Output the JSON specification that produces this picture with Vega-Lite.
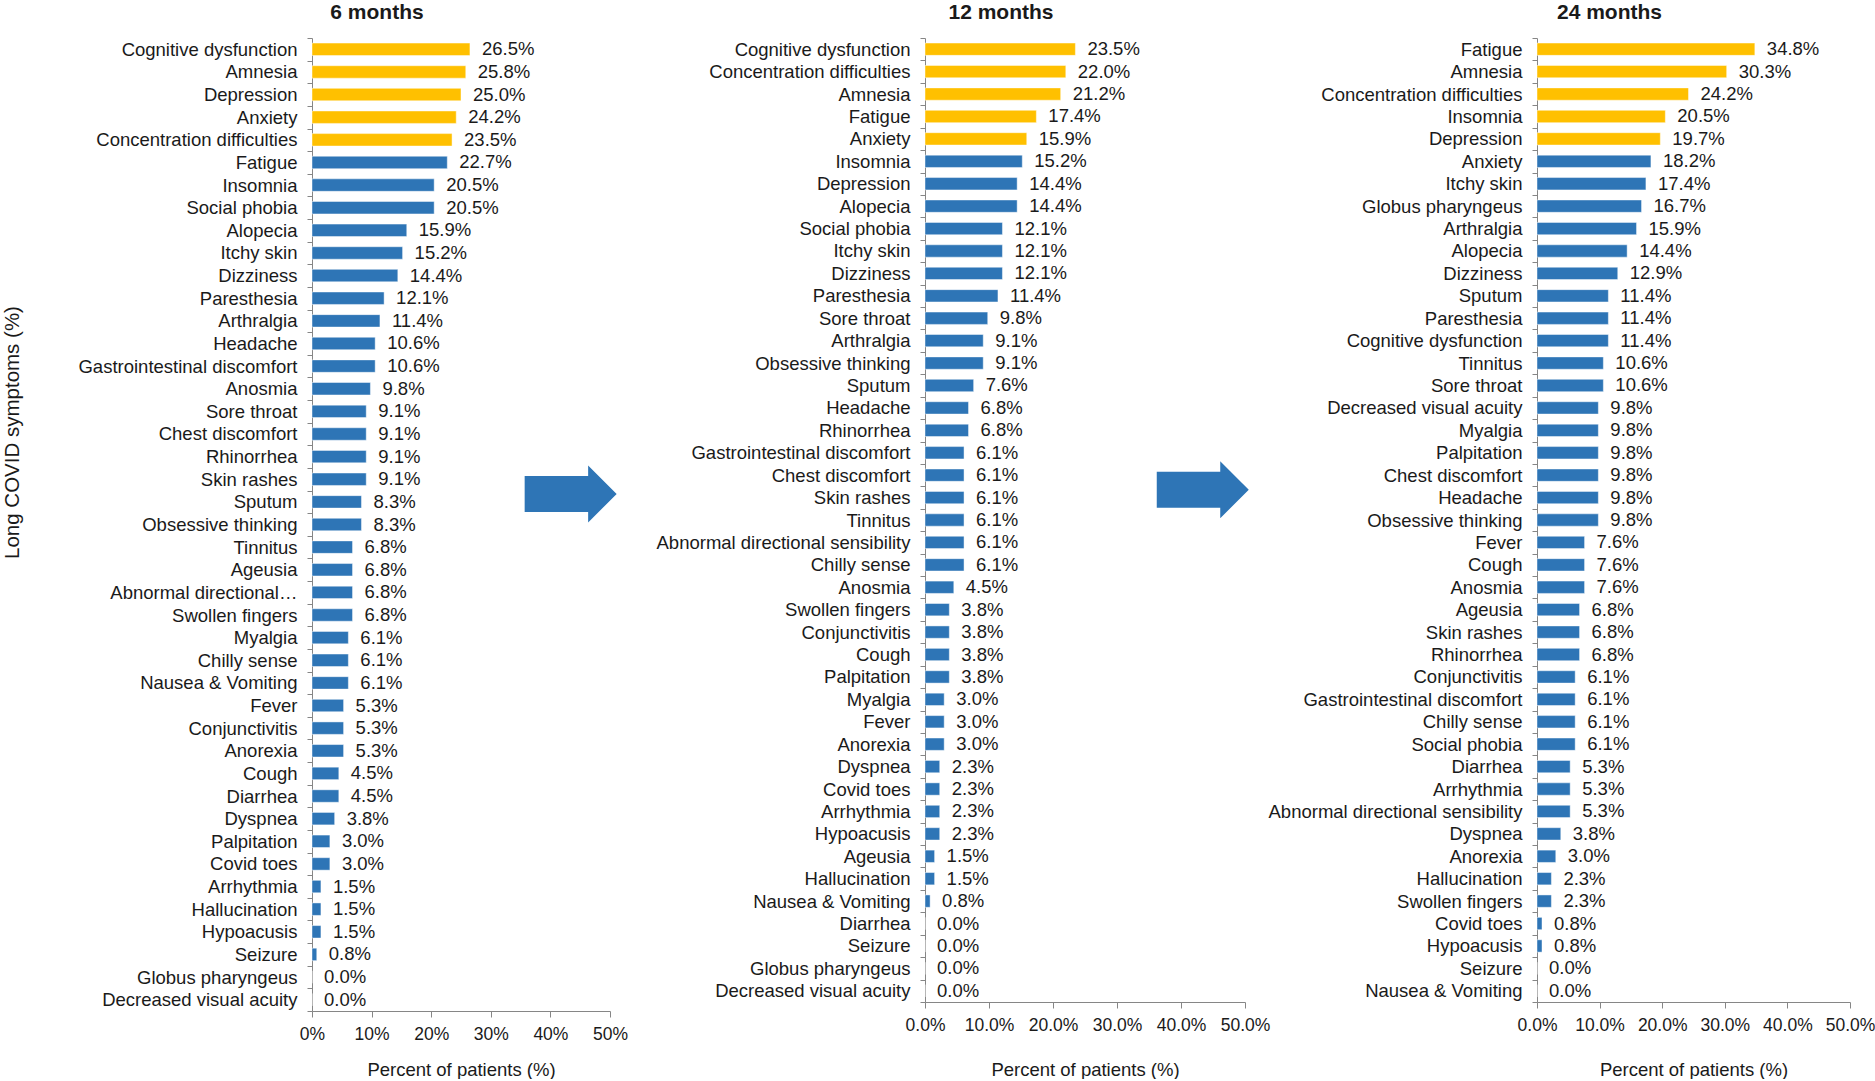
{
  "$schema": "https://vega.github.io/schema/vega-lite/v6.json",
  "padding": {"left": 2, "top": 2, "right": 0, "bottom": 0},
  "background": "white",
  "bounds": "flush",
  "spacing": 315,
  "config": {
    "view": {"stroke": null},
    "font": "Liberation Sans",
    "axis": {"domainColor": "#868686", "tickColor": "#868686", "labelColor": "#1a1a1a", "titleColor": "#1a1a1a", "grid": false, "titleFontWeight": "normal", "labelFont": "Liberation Sans", "titleFont": "Liberation Sans"},
    "axisX": {"labelFlush": false, "labelOverlap": false},
    "bar": {"stroke": "#ffffff", "strokeOpacity": 0.45, "strokeWidth": 1},
    "title": {"font": "Liberation Sans", "fontSize": 21, "fontWeight": "bold", "color": "#1a1a1a", "anchor": "middle", "frame": "group", "baseline": "alphabetic", "offset": 6, "dx": -84}
  },
  "datasets": {
    "symptoms": [
      {"period": "6 months", "symptom": "Cognitive dysfunction", "pct": 0.265, "group": "top"},
      {"period": "6 months", "symptom": "Amnesia", "pct": 0.258, "group": "top"},
      {"period": "6 months", "symptom": "Depression", "pct": 0.25, "group": "top"},
      {"period": "6 months", "symptom": "Anxiety", "pct": 0.242, "group": "top"},
      {"period": "6 months", "symptom": "Concentration difficulties", "pct": 0.235, "group": "top"},
      {"period": "6 months", "symptom": "Fatigue", "pct": 0.227, "group": "other"},
      {"period": "6 months", "symptom": "Insomnia", "pct": 0.205, "group": "other"},
      {"period": "6 months", "symptom": "Social phobia", "pct": 0.205, "group": "other"},
      {"period": "6 months", "symptom": "Alopecia", "pct": 0.159, "group": "other"},
      {"period": "6 months", "symptom": "Itchy skin", "pct": 0.152, "group": "other"},
      {"period": "6 months", "symptom": "Dizziness", "pct": 0.144, "group": "other"},
      {"period": "6 months", "symptom": "Paresthesia", "pct": 0.121, "group": "other"},
      {"period": "6 months", "symptom": "Arthralgia", "pct": 0.114, "group": "other"},
      {"period": "6 months", "symptom": "Headache", "pct": 0.106, "group": "other"},
      {"period": "6 months", "symptom": "Gastrointestinal discomfort", "pct": 0.106, "group": "other"},
      {"period": "6 months", "symptom": "Anosmia", "pct": 0.098, "group": "other"},
      {"period": "6 months", "symptom": "Sore throat", "pct": 0.091, "group": "other"},
      {"period": "6 months", "symptom": "Chest discomfort", "pct": 0.091, "group": "other"},
      {"period": "6 months", "symptom": "Rhinorrhea", "pct": 0.091, "group": "other"},
      {"period": "6 months", "symptom": "Skin rashes", "pct": 0.091, "group": "other"},
      {"period": "6 months", "symptom": "Sputum", "pct": 0.083, "group": "other"},
      {"period": "6 months", "symptom": "Obsessive thinking", "pct": 0.083, "group": "other"},
      {"period": "6 months", "symptom": "Tinnitus", "pct": 0.068, "group": "other"},
      {"period": "6 months", "symptom": "Ageusia", "pct": 0.068, "group": "other"},
      {"period": "6 months", "symptom": "Abnormal directional sensibility", "pct": 0.068, "group": "other"},
      {"period": "6 months", "symptom": "Swollen fingers", "pct": 0.068, "group": "other"},
      {"period": "6 months", "symptom": "Myalgia", "pct": 0.061, "group": "other"},
      {"period": "6 months", "symptom": "Chilly sense", "pct": 0.061, "group": "other"},
      {"period": "6 months", "symptom": "Nausea & Vomiting", "pct": 0.061, "group": "other"},
      {"period": "6 months", "symptom": "Fever", "pct": 0.053, "group": "other"},
      {"period": "6 months", "symptom": "Conjunctivitis", "pct": 0.053, "group": "other"},
      {"period": "6 months", "symptom": "Anorexia", "pct": 0.053, "group": "other"},
      {"period": "6 months", "symptom": "Cough", "pct": 0.045, "group": "other"},
      {"period": "6 months", "symptom": "Diarrhea", "pct": 0.045, "group": "other"},
      {"period": "6 months", "symptom": "Dyspnea", "pct": 0.038, "group": "other"},
      {"period": "6 months", "symptom": "Palpitation", "pct": 0.03, "group": "other"},
      {"period": "6 months", "symptom": "Covid toes", "pct": 0.03, "group": "other"},
      {"period": "6 months", "symptom": "Arrhythmia", "pct": 0.015, "group": "other"},
      {"period": "6 months", "symptom": "Hallucination", "pct": 0.015, "group": "other"},
      {"period": "6 months", "symptom": "Hypoacusis", "pct": 0.015, "group": "other"},
      {"period": "6 months", "symptom": "Seizure", "pct": 0.008, "group": "other"},
      {"period": "6 months", "symptom": "Globus pharyngeus", "pct": 0.0, "group": "other"},
      {"period": "6 months", "symptom": "Decreased visual acuity", "pct": 0.0, "group": "other"},
      {"period": "12 months", "symptom": "Cognitive dysfunction", "pct": 0.235, "group": "top"},
      {"period": "12 months", "symptom": "Concentration difficulties", "pct": 0.22, "group": "top"},
      {"period": "12 months", "symptom": "Amnesia", "pct": 0.212, "group": "top"},
      {"period": "12 months", "symptom": "Fatigue", "pct": 0.174, "group": "top"},
      {"period": "12 months", "symptom": "Anxiety", "pct": 0.159, "group": "top"},
      {"period": "12 months", "symptom": "Insomnia", "pct": 0.152, "group": "other"},
      {"period": "12 months", "symptom": "Depression", "pct": 0.144, "group": "other"},
      {"period": "12 months", "symptom": "Alopecia", "pct": 0.144, "group": "other"},
      {"period": "12 months", "symptom": "Social phobia", "pct": 0.121, "group": "other"},
      {"period": "12 months", "symptom": "Itchy skin", "pct": 0.121, "group": "other"},
      {"period": "12 months", "symptom": "Dizziness", "pct": 0.121, "group": "other"},
      {"period": "12 months", "symptom": "Paresthesia", "pct": 0.114, "group": "other"},
      {"period": "12 months", "symptom": "Sore throat", "pct": 0.098, "group": "other"},
      {"period": "12 months", "symptom": "Arthralgia", "pct": 0.091, "group": "other"},
      {"period": "12 months", "symptom": "Obsessive thinking", "pct": 0.091, "group": "other"},
      {"period": "12 months", "symptom": "Sputum", "pct": 0.076, "group": "other"},
      {"period": "12 months", "symptom": "Headache", "pct": 0.068, "group": "other"},
      {"period": "12 months", "symptom": "Rhinorrhea", "pct": 0.068, "group": "other"},
      {"period": "12 months", "symptom": "Gastrointestinal discomfort", "pct": 0.061, "group": "other"},
      {"period": "12 months", "symptom": "Chest discomfort", "pct": 0.061, "group": "other"},
      {"period": "12 months", "symptom": "Skin rashes", "pct": 0.061, "group": "other"},
      {"period": "12 months", "symptom": "Tinnitus", "pct": 0.061, "group": "other"},
      {"period": "12 months", "symptom": "Abnormal directional sensibility", "pct": 0.061, "group": "other"},
      {"period": "12 months", "symptom": "Chilly sense", "pct": 0.061, "group": "other"},
      {"period": "12 months", "symptom": "Anosmia", "pct": 0.045, "group": "other"},
      {"period": "12 months", "symptom": "Swollen fingers", "pct": 0.038, "group": "other"},
      {"period": "12 months", "symptom": "Conjunctivitis", "pct": 0.038, "group": "other"},
      {"period": "12 months", "symptom": "Cough", "pct": 0.038, "group": "other"},
      {"period": "12 months", "symptom": "Palpitation", "pct": 0.038, "group": "other"},
      {"period": "12 months", "symptom": "Myalgia", "pct": 0.03, "group": "other"},
      {"period": "12 months", "symptom": "Fever", "pct": 0.03, "group": "other"},
      {"period": "12 months", "symptom": "Anorexia", "pct": 0.03, "group": "other"},
      {"period": "12 months", "symptom": "Dyspnea", "pct": 0.023, "group": "other"},
      {"period": "12 months", "symptom": "Covid toes", "pct": 0.023, "group": "other"},
      {"period": "12 months", "symptom": "Arrhythmia", "pct": 0.023, "group": "other"},
      {"period": "12 months", "symptom": "Hypoacusis", "pct": 0.023, "group": "other"},
      {"period": "12 months", "symptom": "Ageusia", "pct": 0.015, "group": "other"},
      {"period": "12 months", "symptom": "Hallucination", "pct": 0.015, "group": "other"},
      {"period": "12 months", "symptom": "Nausea & Vomiting", "pct": 0.008, "group": "other"},
      {"period": "12 months", "symptom": "Diarrhea", "pct": 0.0, "group": "other"},
      {"period": "12 months", "symptom": "Seizure", "pct": 0.0, "group": "other"},
      {"period": "12 months", "symptom": "Globus pharyngeus", "pct": 0.0, "group": "other"},
      {"period": "12 months", "symptom": "Decreased visual acuity", "pct": 0.0, "group": "other"},
      {"period": "24 months", "symptom": "Fatigue", "pct": 0.348, "group": "top"},
      {"period": "24 months", "symptom": "Amnesia", "pct": 0.303, "group": "top"},
      {"period": "24 months", "symptom": "Concentration difficulties", "pct": 0.242, "group": "top"},
      {"period": "24 months", "symptom": "Insomnia", "pct": 0.205, "group": "top"},
      {"period": "24 months", "symptom": "Depression", "pct": 0.197, "group": "top"},
      {"period": "24 months", "symptom": "Anxiety", "pct": 0.182, "group": "other"},
      {"period": "24 months", "symptom": "Itchy skin", "pct": 0.174, "group": "other"},
      {"period": "24 months", "symptom": "Globus pharyngeus", "pct": 0.167, "group": "other"},
      {"period": "24 months", "symptom": "Arthralgia", "pct": 0.159, "group": "other"},
      {"period": "24 months", "symptom": "Alopecia", "pct": 0.144, "group": "other"},
      {"period": "24 months", "symptom": "Dizziness", "pct": 0.129, "group": "other"},
      {"period": "24 months", "symptom": "Sputum", "pct": 0.114, "group": "other"},
      {"period": "24 months", "symptom": "Paresthesia", "pct": 0.114, "group": "other"},
      {"period": "24 months", "symptom": "Cognitive dysfunction", "pct": 0.114, "group": "other"},
      {"period": "24 months", "symptom": "Tinnitus", "pct": 0.106, "group": "other"},
      {"period": "24 months", "symptom": "Sore throat", "pct": 0.106, "group": "other"},
      {"period": "24 months", "symptom": "Decreased visual acuity", "pct": 0.098, "group": "other"},
      {"period": "24 months", "symptom": "Myalgia", "pct": 0.098, "group": "other"},
      {"period": "24 months", "symptom": "Palpitation", "pct": 0.098, "group": "other"},
      {"period": "24 months", "symptom": "Chest discomfort", "pct": 0.098, "group": "other"},
      {"period": "24 months", "symptom": "Headache", "pct": 0.098, "group": "other"},
      {"period": "24 months", "symptom": "Obsessive thinking", "pct": 0.098, "group": "other"},
      {"period": "24 months", "symptom": "Fever", "pct": 0.076, "group": "other"},
      {"period": "24 months", "symptom": "Cough", "pct": 0.076, "group": "other"},
      {"period": "24 months", "symptom": "Anosmia", "pct": 0.076, "group": "other"},
      {"period": "24 months", "symptom": "Ageusia", "pct": 0.068, "group": "other"},
      {"period": "24 months", "symptom": "Skin rashes", "pct": 0.068, "group": "other"},
      {"period": "24 months", "symptom": "Rhinorrhea", "pct": 0.068, "group": "other"},
      {"period": "24 months", "symptom": "Conjunctivitis", "pct": 0.061, "group": "other"},
      {"period": "24 months", "symptom": "Gastrointestinal discomfort", "pct": 0.061, "group": "other"},
      {"period": "24 months", "symptom": "Chilly sense", "pct": 0.061, "group": "other"},
      {"period": "24 months", "symptom": "Social phobia", "pct": 0.061, "group": "other"},
      {"period": "24 months", "symptom": "Diarrhea", "pct": 0.053, "group": "other"},
      {"period": "24 months", "symptom": "Arrhythmia", "pct": 0.053, "group": "other"},
      {"period": "24 months", "symptom": "Abnormal directional sensibility", "pct": 0.053, "group": "other"},
      {"period": "24 months", "symptom": "Dyspnea", "pct": 0.038, "group": "other"},
      {"period": "24 months", "symptom": "Anorexia", "pct": 0.03, "group": "other"},
      {"period": "24 months", "symptom": "Hallucination", "pct": 0.023, "group": "other"},
      {"period": "24 months", "symptom": "Swollen fingers", "pct": 0.023, "group": "other"},
      {"period": "24 months", "symptom": "Covid toes", "pct": 0.008, "group": "other"},
      {"period": "24 months", "symptom": "Hypoacusis", "pct": 0.008, "group": "other"},
      {"period": "24 months", "symptom": "Seizure", "pct": 0.0, "group": "other"},
      {"period": "24 months", "symptom": "Nausea & Vomiting", "pct": 0.0, "group": "other"}
    ]
  },
  "hconcat": [
    {
      "width": 298,
      "height": 973,
      "title": {"text": "6 months"},
      "data": {"name": "symptoms"},
      "transform": [{"filter": "datum.period == '6 months'"}],
      "layer": [
        {
          "mark": {"type": "bar", "height": {"band": 0.55}},
          "encoding": {
            "y": {"field": "symptom", "type": "nominal", "sort": null, "scale": {"paddingInner": 0, "paddingOuter": 0},
              "axis": {"title": "Long COVID symptoms (%)", "titleFontSize": 20.5, "titleX": -290, "titleY": 394, "tickBand": "extent", "tickSize": 5, "labelPadding": 10, "labelFontSize": 18.5, "labelLimit": 0,
                "labelExpr": "datum.label == 'Abnormal directional sensibility' ? 'Abnormal directional\u2026' : datum.label"}},
            "x": {"field": "pct", "type": "quantitative", "scale": {"domain": [0, 0.5]},
              "axis": {"values": [0, 0.1, 0.2, 0.3, 0.4, 0.5], "format": ".0%", "tickSize": 6, "labelPadding": 8, "labelFontSize": 17.5, "title": "Percent of patients (%)", "titleFontSize": 18.5, "titlePadding": 18}},
            "color": {"field": "group", "type": "nominal", "scale": {"domain": ["top", "other"], "range": ["#FFC000", "#2E75B6"]}, "legend": null}
          }
        },
        {
          "mark": {"type": "text", "align": "left", "baseline": "middle", "dx": 12, "fontSize": 18.5, "color": "#1a1a1a"},
          "encoding": {
            "y": {"field": "symptom", "type": "nominal", "sort": null},
            "x": {"field": "pct", "type": "quantitative"},
            "text": {"field": "pct", "type": "quantitative", "format": ".1%"}
          }
        },
        {
          "data": {"values": [{}]},
          "mark": {"type": "point", "shape": "M -1 -0.39 L 0.38 -0.39 L 0.38 -0.62 L 1 0 L 0.38 0.62 L 0.38 0.39 L -1 0.39 Z", "size": 8464, "filled": true, "color": "#2E75B6", "opacity": 1},
          "encoding": {
            "x": {"datum": 0.434, "type": "quantitative"},
            "y": {"datum": "Sputum", "type": "nominal", "bandPosition": 0.15}
          }
        }
      ]
    },
    {
      "bounds": "flush",
      "spacing": 292,
      "hconcat": [
        {
          "width": 320,
          "height": 964,
          "title": {"text": "12 months"},
          "data": {"name": "symptoms"},
          "transform": [{"filter": "datum.period == '12 months'"}],
          "layer": [
            {
              "mark": {"type": "bar", "height": {"band": 0.55}},
              "encoding": {
                "y": {"field": "symptom", "type": "nominal", "sort": null, "scale": {"paddingInner": 0, "paddingOuter": 0},
                  "axis": {"title": null, "tickBand": "extent", "tickSize": 5, "labelPadding": 10, "labelFontSize": 18.5, "labelLimit": 0}},
                "x": {"field": "pct", "type": "quantitative", "scale": {"domain": [0, 0.5]},
                  "axis": {"values": [0, 0.1, 0.2, 0.3, 0.4, 0.5], "format": ".1%", "tickSize": 6, "labelPadding": 8, "labelFontSize": 17.5, "title": "Percent of patients (%)", "titleFontSize": 18.5, "titlePadding": 27}},
                "color": {"field": "group", "type": "nominal", "scale": {"domain": ["top", "other"], "range": ["#FFC000", "#2E75B6"]}, "legend": null}
              }
            },
            {
              "mark": {"type": "text", "align": "left", "baseline": "middle", "dx": 12, "fontSize": 18.5, "color": "#1a1a1a"},
              "encoding": {
                "y": {"field": "symptom", "type": "nominal", "sort": null},
                "x": {"field": "pct", "type": "quantitative"},
                "text": {"field": "pct", "type": "quantitative", "format": ".1%"}
              }
            },
            {
              "data": {"values": [{}]},
              "mark": {"type": "point", "shape": "M -1 -0.39 L 0.38 -0.39 L 0.38 -0.62 L 1 0 L 0.38 0.62 L 0.38 0.39 L -1 0.39 Z", "size": 8464, "filled": true, "color": "#2E75B6", "opacity": 1},
              "encoding": {
                "x": {"datum": 0.434, "type": "quantitative"},
                "y": {"datum": "Skin rashes", "type": "nominal", "bandPosition": 0.15}
              }
            }
          ]
        },
        {
          "width": 313,
          "height": 964,
          "title": {"text": "24 months"},
          "data": {"name": "symptoms"},
          "transform": [{"filter": "datum.period == '24 months'"}],
          "layer": [
            {
              "mark": {"type": "bar", "height": {"band": 0.55}},
              "encoding": {
                "y": {"field": "symptom", "type": "nominal", "sort": null, "scale": {"paddingInner": 0, "paddingOuter": 0},
                  "axis": {"title": null, "tickBand": "extent", "tickSize": 5, "labelPadding": 10, "labelFontSize": 18.5, "labelLimit": 0}},
                "x": {"field": "pct", "type": "quantitative", "scale": {"domain": [0, 0.5]},
                  "axis": {"values": [0, 0.1, 0.2, 0.3, 0.4, 0.5], "format": ".1%", "tickSize": 6, "labelPadding": 8, "labelFontSize": 17.5, "title": "Percent of patients (%)", "titleFontSize": 18.5, "titlePadding": 27}},
                "color": {"field": "group", "type": "nominal", "scale": {"domain": ["top", "other"], "range": ["#FFC000", "#2E75B6"]}, "legend": null}
              }
            },
            {
              "mark": {"type": "text", "align": "left", "baseline": "middle", "dx": 12, "fontSize": 18.5, "color": "#1a1a1a"},
              "encoding": {
                "y": {"field": "symptom", "type": "nominal", "sort": null},
                "x": {"field": "pct", "type": "quantitative"},
                "text": {"field": "pct", "type": "quantitative", "format": ".1%"}
              }
            }
          ]
        }
      ]
    }
  ]
}
